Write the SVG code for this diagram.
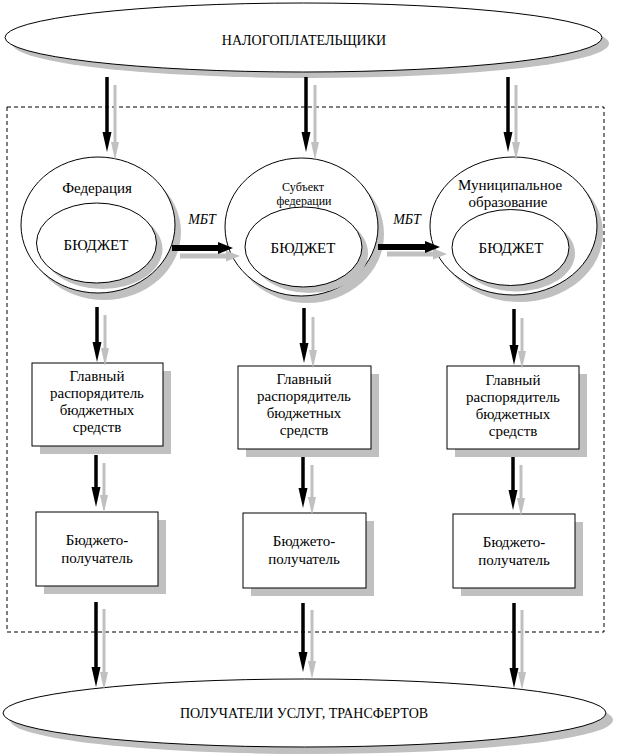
<svg xmlns="http://www.w3.org/2000/svg" width="617" height="756" viewBox="0 0 617 756" font-family="'Liberation Serif', serif">
<style>
  text { font-family: 'Liberation Serif', serif; fill: #000; text-anchor: middle; font-weight: normal; }
  .big { font-size: 14px; }
  .lbl { font-size: 15px; }
  .sm { font-size: 12px; }
  .mbt { font-size: 14px; font-style: italic; }
  .shape { fill: #fff; stroke: #000; stroke-width: 1; }
  .shadow { fill: #c0c0c0; stroke: none; }
  .blk { stroke: #000; stroke-width: 3.5; fill: none; marker-end: url(#hb); }
  .gry { stroke: #c0c0c0; stroke-width: 3; fill: none; marker-end: url(#hg); }
  .blkw { stroke: #000; stroke-width: 6; fill: none; marker-end: url(#hbw); }
  .gryw { stroke: #c0c0c0; stroke-width: 5; fill: none; marker-end: url(#hgw); }
</style>
<defs>
  <marker id="hb" markerUnits="userSpaceOnUse" markerWidth="22" markerHeight="10" refX="0" refY="4.5" orient="auto" overflow="visible">
    <path d="M0,0 L20,4.5 L0,9 z" fill="#000"/>
  </marker>
  <marker id="hg" markerUnits="userSpaceOnUse" markerWidth="20" markerHeight="9" refX="0" refY="4" orient="auto" overflow="visible">
    <path d="M0,0 L18,4 L0,8 z" fill="#c0c0c0"/>
  </marker>
  <marker id="hbw" markerUnits="userSpaceOnUse" markerWidth="16" markerHeight="13" refX="0" refY="6" orient="auto" overflow="visible">
    <path d="M0,0 L15,6 L0,12 z" fill="#000"/>
  </marker>
  <marker id="hgw" markerUnits="userSpaceOnUse" markerWidth="16" markerHeight="12" refX="0" refY="5.5" orient="auto" overflow="visible">
    <path d="M0,0 L14,5.5 L0,11 z" fill="#c0c0c0"/>
  </marker>
</defs>

<rect id="frame" x="7" y="107" width="597" height="525" fill="none" stroke="#000" stroke-width="1" stroke-dasharray="4,3"/>

<g id="taxpayers">
  <ellipse class="shadow" cx="310.5" cy="43.5" rx="298.5" ry="34.5"/>
  <ellipse class="shape" cx="303.5" cy="37.5" rx="298.5" ry="34.5"/>
  <text class="big" x="304" y="45">НАЛОГОПЛАТЕЛЬЩИКИ</text>
</g>

<g id="federation">
  <ellipse class="shadow" cx="104" cy="232" rx="77" ry="68"/>
  <ellipse class="shape" cx="98" cy="225" rx="77" ry="68"/>
  <text class="lbl" x="97" y="193">Федерация</text>
  <ellipse class="shadow" cx="102.5" cy="249" rx="60" ry="40"/>
  <ellipse class="shape" cx="96.5" cy="243" rx="60" ry="40"/>
  <text class="lbl" x="96" y="250">БЮДЖЕТ</text>
</g>

<g id="subject">
  <ellipse class="shadow" cx="307.5" cy="234" rx="76.5" ry="69"/>
  <ellipse class="shape" cx="301.5" cy="227" rx="76.5" ry="69"/>
  <text class="sm" x="303" y="191">Субъект</text>
  <text class="sm" x="304" y="205">федерации</text>
  <ellipse class="shadow" cx="309.5" cy="253" rx="58.5" ry="40"/>
  <ellipse class="shape" cx="303.5" cy="247" rx="58.5" ry="40"/>
  <text class="lbl" x="303" y="253">БЮДЖЕТ</text>
</g>

<g id="municipal">
  <ellipse class="shadow" cx="519.5" cy="233" rx="83.5" ry="69"/>
  <ellipse class="shape" cx="513.5" cy="226" rx="83.5" ry="69"/>
  <text class="lbl" x="510" y="190">Муниципальное</text>
  <text class="lbl" x="508" y="207">образование</text>
  <ellipse class="shadow" cx="516.5" cy="253.5" rx="58.5" ry="38"/>
  <ellipse class="shape" cx="510.5" cy="247.5" rx="58.5" ry="38"/>
  <text class="lbl" x="511" y="253">БЮДЖЕТ</text>
</g>

<g id="gr1">
  <rect class="shadow" x="40" y="371" width="131" height="83"/>
  <rect class="shape" x="32" y="363" width="131" height="83"/>
  <text class="lbl" x="97" y="381">Главный</text>
  <text class="lbl" x="97" y="398">распорядитель</text>
  <text class="lbl" x="97" y="415">бюджетных</text>
  <text class="lbl" x="97" y="432">средств</text>
</g>
<g id="gr2">
  <rect class="shadow" x="246" y="374" width="133" height="83"/>
  <rect class="shape" x="238" y="366" width="133" height="83"/>
  <text class="lbl" x="304" y="384">Главный</text>
  <text class="lbl" x="304" y="401">распорядитель</text>
  <text class="lbl" x="304" y="418">бюджетных</text>
  <text class="lbl" x="304" y="435">средств</text>
</g>
<g id="gr3">
  <rect class="shadow" x="455" y="374" width="132" height="83"/>
  <rect class="shape" x="447" y="366" width="132" height="83"/>
  <text class="lbl" x="513" y="385">Главный</text>
  <text class="lbl" x="513" y="402">распорядитель</text>
  <text class="lbl" x="513" y="419">бюджетных</text>
  <text class="lbl" x="513" y="436">средств</text>
</g>

<g id="rcp1">
  <rect class="shadow" x="44" y="520" width="122" height="74"/>
  <rect class="shape" x="36" y="512" width="122" height="74"/>
  <text class="lbl" x="97" y="545">Бюджето-</text>
  <text class="lbl" x="97" y="563">получатель</text>
</g>
<g id="rcp2">
  <rect class="shadow" x="251" y="521" width="123" height="75"/>
  <rect class="shape" x="243" y="513" width="123" height="75"/>
  <text class="lbl" x="304" y="546">Бюджето-</text>
  <text class="lbl" x="304" y="564">получатель</text>
</g>
<g id="rcp3">
  <rect class="shadow" x="461" y="522" width="122" height="74"/>
  <rect class="shape" x="453" y="514" width="122" height="74"/>
  <text class="lbl" x="514" y="547">Бюджето-</text>
  <text class="lbl" x="514" y="565">получатель</text>
</g>

<g id="recipients">
  <ellipse class="shadow" cx="311.5" cy="720" rx="301.5" ry="34"/>
  <ellipse class="shape" cx="304.5" cy="713" rx="301.5" ry="34"/>
  <text class="big" x="304" y="718">ПОЛУЧАТЕЛИ УСЛУГ, ТРАНСФЕРТОВ</text>
</g>

<g id="connectors">
  <line class="gry" x1="115" y1="85" x2="115" y2="142"/>
  <line class="blk" x1="107" y1="77" x2="107" y2="132"/>
  <line class="gry" x1="315" y1="85" x2="315" y2="142"/>
  <line class="blk" x1="306" y1="77" x2="306" y2="132"/>
  <line class="gry" x1="516" y1="85" x2="516" y2="142"/>
  <line class="blk" x1="508" y1="77" x2="508" y2="132"/>
  <line class="gryw" x1="180" y1="256" x2="226" y2="256"/>
  <line class="blkw" x1="172" y1="248" x2="218" y2="248"/>
  <line class="gryw" x1="387" y1="254" x2="433" y2="254"/>
  <line class="blkw" x1="378" y1="247" x2="425" y2="247"/>
  <line class="gry" x1="105" y1="315" x2="105" y2="348"/>
  <line class="blk" x1="97" y1="307" x2="97" y2="342"/>
  <line class="gry" x1="313" y1="317" x2="313" y2="350"/>
  <line class="blk" x1="304" y1="308" x2="304" y2="343"/>
  <line class="gry" x1="522" y1="318" x2="522" y2="351"/>
  <line class="blk" x1="514" y1="309" x2="514" y2="345"/>
  <line class="gry" x1="104" y1="463" x2="104" y2="495"/>
  <line class="blk" x1="96" y1="455" x2="96" y2="487"/>
  <line class="gry" x1="312" y1="465" x2="312" y2="497"/>
  <line class="blk" x1="303" y1="457" x2="303" y2="488"/>
  <line class="gry" x1="521" y1="465" x2="521" y2="498"/>
  <line class="blk" x1="513" y1="457" x2="513" y2="490"/>
  <line class="gry" x1="104" y1="609" x2="104" y2="672"/>
  <line class="blk" x1="96" y1="602" x2="96" y2="667"/>
  <line class="gry" x1="312" y1="610" x2="312" y2="661"/>
  <line class="blk" x1="303" y1="603" x2="303" y2="652"/>
  <line class="gry" x1="522" y1="610" x2="522" y2="672"/>
  <line class="blk" x1="514" y1="603" x2="514" y2="668"/>
  <text class="mbt" x="202" y="224">МБТ</text>
  <text class="mbt" x="407" y="224">МБТ</text>
</g>
</svg>
